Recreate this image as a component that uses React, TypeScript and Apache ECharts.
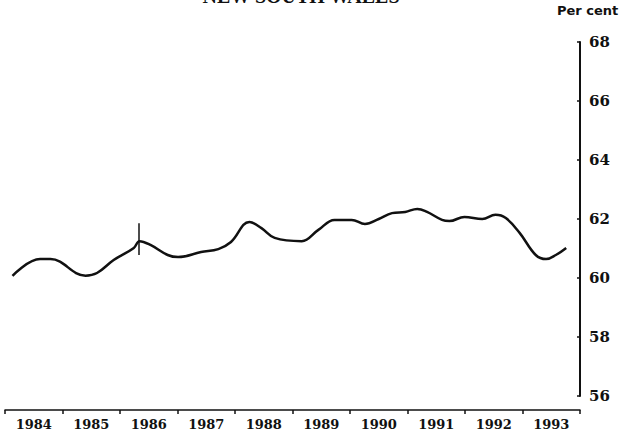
import React, { useEffect, useRef } from "react";
import * as echarts from "echarts";

const yearLabels = ["1984", "1985", "1986", "1987", "1988", "1989", "1990", "1991", "1992", "1993"];
const years = [
  1984.13, 1984.61, 1984.79, 1985.4, 1985.6, 1985.89, 1986.24, 1986.34, 1986.53, 1986.83,
  1987.01, 1987.41, 1987.71, 1987.93, 1988.25, 1988.46, 1988.69, 1989.16, 1989.45, 1989.73,
  1990.03, 1990.26, 1990.5, 1990.73, 1990.96, 1991.17, 1991.34, 1991.6, 1991.73, 1991.99,
  1992.3, 1992.53, 1992.71, 1992.95, 1993.23, 1993.41, 1993.58, 1993.76,
];
const perCent = [
  60.07, 60.64, 60.64, 60.08, 60.17, 60.61, 61.02, 61.25, 61.12, 60.78,
  60.71, 60.88, 60.98, 61.22, 61.9, 61.69, 61.36, 61.25, 61.63, 61.97,
  61.97, 61.83, 62.0, 62.2, 62.24, 62.34, 62.24, 61.97, 61.93, 62.07,
  62.0, 62.14, 62.03, 61.53, 60.78, 60.64, 60.78, 61.02,
];
const yTicks = [56, 58, 60, 62, 64, 66, 68];
const breakYear = 1986.33;
const breakRange = [60.78, 61.86];

export default function App() {
  const ref = useRef<HTMLDivElement>(null);
  useEffect(() => {
    if (!ref.current) return;
    const chart = echarts.init(ref.current, null, { renderer: "svg" });
    chart.setOption({
      animation: false,
      backgroundColor: "#ffffff",
      grid: { left: 5, right: 42, top: 42, bottom: 49, containLabel: false },
      graphic: [
        {
          type: "text",
          x: 301,
          y: 6,
          style: {
            text: "NEW SOUTH WALES",
            font: "bold 20px 'Liberation Serif', serif",
            fill: "#111",
            textAlign: "center",
            textVerticalAlign: "bottom",
          },
        },
        {
          type: "text",
          x: 557,
          y: 10,
          style: {
            text: "Per cent",
            font: "bold 13px 'DejaVu Sans', sans-serif",
            fill: "#111",
            textAlign: "left",
            textVerticalAlign: "middle",
          },
        },
      ],
      xAxis: [
        {
          type: "category",
          data: yearLabels,
          boundaryGap: true,
          position: "bottom",
          offset: 14,
          axisLine: { show: true, lineStyle: { color: "#111", width: 1.5 } },
          axisTick: { show: true, inside: false, length: 4, lineStyle: { color: "#111", width: 1.5 } },
          axisLabel: {
            margin: 8,
            color: "#111",
            fontFamily: "'DejaVu Serif', serif",
            fontWeight: "bold",
            fontSize: 13,
          },
          splitLine: { show: false },
        },
        {
          type: "value",
          min: 1984,
          max: 1994,
          show: false,
        },
      ],
      yAxis: {
        type: "value",
        position: "right",
        min: yTicks[0],
        max: yTicks[yTicks.length - 1],
        interval: 2,
        axisLine: { show: true, lineStyle: { color: "#111", width: 2 } },
        axisTick: { show: true, inside: true, length: 3, lineStyle: { color: "#111", width: 1.5 } },
        axisLabel: {
          margin: 9,
          color: "#111",
          fontFamily: "'DejaVu Serif', serif",
          fontWeight: "bold",
          fontSize: 15,
        },
        splitLine: { show: false },
      },
      series: [
        {
          type: "line",
          xAxisIndex: 1,
          data: years.map((y, i) => [y, perCent[i]]),
          smooth: 0.4,
          showSymbol: false,
          symbol: "none",
          lineStyle: { color: "#111", width: 2.5 },
          markLine: {
            silent: true,
            symbol: "none",
            label: { show: false },
            lineStyle: { color: "#111", width: 1.5, type: "solid" },
            data: [
              [
                { coord: [breakYear, breakRange[1]] },
                { coord: [breakYear, breakRange[0]] },
              ],
            ],
          },
        },
      ],
    });
    return () => chart.dispose();
  }, []);
  return (
    <div
      ref={ref}
      style={{ position: "fixed", left: 0, top: 0, width: 622, height: 445 }}
    />
  );
}
